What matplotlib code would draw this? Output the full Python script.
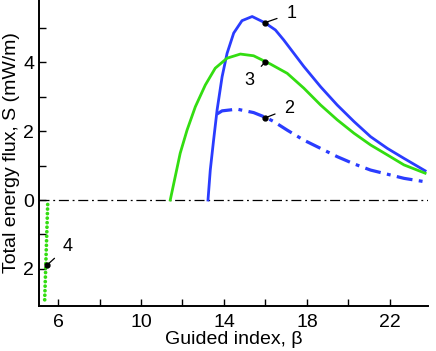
import matplotlib
matplotlib.use("Agg")
import matplotlib.pyplot as plt

plt.rcParams['font.family'] = ['Liberation Sans', 'DejaVu Sans']

# curve 1 (blue solid)
beta1 = [13.23, 13.34, 13.50, 13.67, 13.91, 14.15, 14.47, 14.87, 15.36, 15.97,
         16.48, 16.88, 17.85, 18.66, 19.46, 20.27, 21.07, 21.88, 22.68, 23.70]
s1 = [0.0, 0.87, 1.74, 2.62, 3.58, 4.26, 4.85, 5.21, 5.33, 5.15,
      4.94, 4.65, 3.88, 3.29, 2.76, 2.28, 1.84, 1.50, 1.21, 0.85]

# curve 2 (blue dash-dot)
beta2 = [13.67, 13.91, 14.63, 15.43, 16.05, 16.40, 17.05, 17.85, 18.66, 19.46,
         20.27, 21.07, 21.88, 22.68, 23.70]
s2 = [2.50, 2.59, 2.64, 2.54, 2.39, 2.28, 2.03, 1.74, 1.50, 1.26,
      1.05, 0.87, 0.75, 0.63, 0.53]

# curve 3 (green solid)
beta3 = [11.41, 11.65, 11.89, 12.22, 12.62, 13.10, 13.58, 14.15, 14.79, 15.43,
         16.0, 16.24, 17.05, 17.85, 18.66, 19.46, 20.27, 21.07, 21.88, 22.68, 23.70]
s3 = [0.0, 0.68, 1.36, 2.03, 2.71, 3.34, 3.83, 4.12, 4.24, 4.19,
      4.02, 3.95, 3.68, 3.25, 2.76, 2.33, 1.94, 1.60, 1.31, 1.02, 0.78]

# curve 4 (green dotted, negative flux)
beta4 = [5.50, 5.35]
s4 = [-0.13, -3.0]

# marked points and their labels
mark_beta = [15.97, 16.0, 16.0, 5.45]
mark_s = [5.15, 2.39, 4.02, -1.9]
mark_text = ['1', '2', '3', '4']
text_beta = [17.25, 17.15, 15.2, 6.45]
text_s = [5.42, 2.66, 3.48, -1.35]

xticks = [6, 10, 14, 18, 22]
yticks = [4, 2, 0, -2]
ytick_labels = ['4', '2', '0', '2']

blue = '#2a3cff'
green = '#33dd11'

fig = plt.figure(figsize=(4.36, 3.51), dpi=100)
ax = fig.add_axes([0.0894, 0.128, 0.8923, 0.872])

ax.axhline(0, color='black', lw=0.9, ls=(0, (8, 3, 1.5, 3)))
ax.plot(beta1, s1, color=blue, lw=2.0, solid_joinstyle='round')
ax.plot(beta3, s3, color=green, lw=2.0, solid_joinstyle='round')
ax.plot(beta2, s2, color=blue, lw=2.3, ls=(0, (5, 2, 1.2, 2)))
ax.plot(beta4, s4, color=green, lw=2.7, ls=(0, (0.01, 1.2)), dash_capstyle='round')

ax.plot(mark_beta, mark_s, 'o', color='black', ms=3.5, zorder=5)
for bx, sy, t, tx, ty in zip(mark_beta, mark_s, mark_text, text_beta, text_s):
    ax.annotate(t, xy=(bx, sy), xytext=(tx, ty), fontsize=13,
                ha='center', va='center',
                arrowprops=dict(arrowstyle='-', color='black', lw=0.9,
                                shrinkA=5, shrinkB=1))

ax.set_xlim(5.08, 23.84)
ax.set_ylim(-3.08, 5.81)
ax.set_xticks(xticks)
ax.set_xticks([8, 12, 16, 20], minor=True)
ax.set_yticks(yticks)
ax.set_yticklabels(ytick_labels)
ax.set_yticks([5, 3, 1, -1], minor=True)
ax.tick_params(which='both', direction='in', length=5, width=1.0, labelsize=14)
ax.tick_params(axis='x', pad=6)
ax.spines['top'].set_visible(False)
ax.spines['right'].set_visible(False)
ax.spines['left'].set_linewidth(1.4)
ax.spines['bottom'].set_linewidth(1.4)

ax.set_xlabel('Guided index, \u03b2', fontsize=14, labelpad=0)
ax.set_ylabel('Total energy flux, S (mW/m)', fontsize=14, labelpad=2)

fig.savefig('out.png', dpi=100)
